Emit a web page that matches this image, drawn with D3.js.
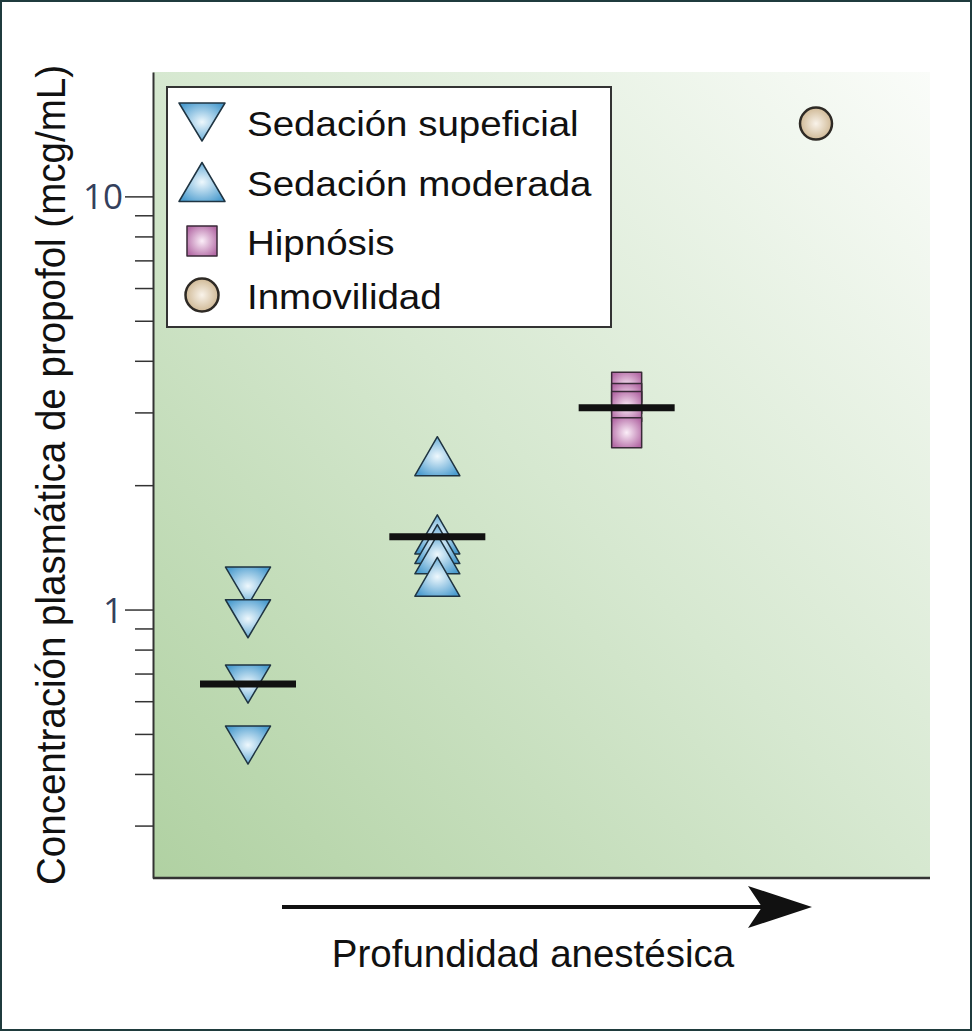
<!DOCTYPE html>
<html>
<head>
<meta charset="utf-8">
<script src="https://cdn.jsdelivr.net/npm/d3@7"></script>
<style>
  body { margin: 0; background: #fff; }
  svg { display: block; }
</style>
</head>
<body>
<div id="chart"></div>
<script>
// Chart data (propofol plasma concentration, mcg/mL)
var categories = ["Sedación supeficial", "Sedación moderada", "Hipnósis", "Inmovilidad"];
var superficialValues = [1.14, 0.95, 0.66, 0.47];
var moderateValues = [2.35, 1.52, 1.44, 1.36, 1.2];
var hypnosisValues = [3.45, 3.24, 3.1, 2.68];
var immobilityValues = [15];
var meanValues = [0.66, 1.5, 3.08, null];
var majorTicks = [1, 10];
var minorTicks = [0.3, 0.4, 0.5, 0.6, 0.7, 0.8, 0.9, 2, 3, 4, 5, 6, 7, 8, 9];
var yTitle = "Concentración plasmática de propofol (mcg/mL)";
var xTitle = "Profundidad anestésica";

var seriesValues = [superficialValues, moderateValues, hypnosisValues, immobilityValues];
var shapes = ["down", "up", "square", "circle"];
var fills = ["url(#blueGrad)", "url(#blueGrad)", "url(#pinkGrad)", "url(#tanGrad)"];

// svg size and margins
var svgWidth = 974;
var svgHeight = 1033;
var chartMargin = { top: 72, right: 44, bottom: 155, left: 153 };
var width = svgWidth - chartMargin.left - chartMargin.right;
var height = svgHeight - chartMargin.top - chartMargin.bottom;

var svg = d3.select("#chart")
  .append("svg")
    .attr("width", svgWidth)
    .attr("height", svgHeight);

// gradients
var defs = svg.append("defs");
var bg = defs.append("linearGradient")
  .attr("id", "bgGrad")
  .attr("x1", 0).attr("y1", 1).attr("x2", 1).attr("y2", 0);
bg.append("stop").attr("offset", "0%").attr("stop-color", "#b0d1a2");
bg.append("stop").attr("offset", "50%").attr("stop-color", "#d6e8d0");
bg.append("stop").attr("offset", "100%").attr("stop-color", "#fafcf9");

function radial(id, inner, outer) {
  var g = defs.append("radialGradient").attr("id", id).attr("r", "0.6");
  g.append("stop").attr("offset", "0%").attr("stop-color", inner);
  g.append("stop").attr("offset", "100%").attr("stop-color", outer);
}
radial("blueGrad", "#eef8fd", "#4d9dcf");
radial("pinkGrad", "#fbeef8", "#b46ba6");
radial("tanGrad", "#f9f3ea", "#c8ae86");

// outer frame
svg.append("rect")
  .attr("x", 1).attr("y", 1)
  .attr("width", svgWidth - 4).attr("height", svgHeight - 4)
  .attr("fill", "#fff")
  .attr("stroke", "#1f3b3d")
  .attr("stroke-width", 2);

var chartGroup = svg.append("g")
  .attr("transform", `translate(${chartMargin.left}, ${chartMargin.top})`);

// plot background
chartGroup.append("rect")
  .attr("width", width)
  .attr("height", height)
  .attr("fill", "url(#bgGrad)");

// scales
var xScale = d3.scalePoint()
  .domain(categories)
  .range([95, 663]);

var yScale = d3.scaleLog()
  .domain([0.224, 20])
  .range([height, 0]);

// y axis: minor ticks, then major ticks with labels
var minorAxis = d3.axisLeft(yScale)
  .tickValues(minorTicks)
  .tickSize(18)
  .tickSizeOuter(0)
  .tickFormat("");
var majorAxis = d3.axisLeft(yScale)
  .tickValues(majorTicks)
  .tickSize(28)
  .tickSizeOuter(0)
  .tickPadding(2)
  .tickFormat(d3.format("d"));

chartGroup.append("g").call(minorAxis)
  .call(g => g.selectAll(".tick line").attr("stroke", "#333").attr("stroke-width", 1.5))
  .call(g => g.select(".domain").remove());

chartGroup.append("g").call(majorAxis)
  .call(g => g.selectAll(".tick line").attr("stroke", "#333").attr("stroke-width", 1.5))
  .call(g => g.select(".domain").attr("stroke", "#333").attr("stroke-width", 2))
  .call(g => g.selectAll(".tick text")
    .attr("font-family", "'Open Sans', sans-serif")
    .attr("font-size", 35)
    .attr("dy", "0.36em")
    .attr("fill", "#34405c"));

// bottom axis line
chartGroup.append("line")
  .attr("x1", 0).attr("x2", width)
  .attr("y1", height).attr("y2", height)
  .attr("stroke", "#333")
  .attr("stroke-width", 2.5);

// marker shapes, centred on their bounding box
function shapePath(kind, w, h) {
  if (kind === "down") return `M${-w / 2},${-h / 2}L${w / 2},${-h / 2}L0,${h / 2}Z`;
  if (kind === "up") return `M0,${-h / 2}L${w / 2},${h / 2}L${-w / 2},${h / 2}Z`;
  if (kind === "square") return `M${-w / 2},${-h / 2}h${w}v${h}h${-w}Z`;
  return d3.symbol(d3.symbolCircle, Math.PI * (w / 2) * (w / 2))();
}
var shapeSize = { down: [45, 38], up: [45, 39], square: [30, 30], circle: [32, 32] };
var strokes = { down: "#1f3442", up: "#1f3442", square: "#3a2a38", circle: "#2e2a25" };

var points = [];
categories.forEach(function (cat, i) {
  seriesValues[i].forEach(function (v) {
    points.push({ cat: cat, value: v, shape: shapes[i], fill: fills[i] });
  });
});

chartGroup.selectAll("path.marker")
  .data(points)
  .enter()
  .append("path")
  .attr("class", "marker")
  .attr("transform", d => `translate(${xScale(d.cat)}, ${yScale(d.value)})`)
  .attr("d", d => shapePath(d.shape, shapeSize[d.shape][0], shapeSize[d.shape][1]))
  .attr("fill", d => d.fill)
  .attr("stroke", d => strokes[d.shape])
  .attr("stroke-width", d => d.shape === "circle" ? 2.5 : 1.5)
  .attr("stroke-linejoin", "round");

// black mean bars
var bars = categories.map((c, i) => ({ cat: c, value: meanValues[i] })).filter(d => d.value !== null);
chartGroup.selectAll("line.mean")
  .data(bars)
  .enter()
  .append("line")
  .attr("class", "mean")
  .attr("x1", d => xScale(d.cat) - 48)
  .attr("x2", d => xScale(d.cat) + 48)
  .attr("y1", d => yScale(d.value))
  .attr("y2", d => yScale(d.value))
  .attr("stroke", "#111")
  .attr("stroke-width", 7);

// legend
var legend = svg.append("g").attr("transform", "translate(167, 87)");
legend.append("rect")
  .attr("width", 444)
  .attr("height", 240)
  .attr("fill", "#fff")
  .attr("stroke", "#333")
  .attr("stroke-width", 2);

var legendRows = [35, 95, 154, 208];
var legendSize = { down: [46, 38], up: [46, 39], square: [30, 30], circle: [33, 33] };
var items = legend.selectAll("g.item")
  .data(categories)
  .enter()
  .append("g")
  .attr("class", "item")
  .attr("transform", (d, i) => `translate(35, ${legendRows[i]})`);

items.append("path")
  .attr("d", (d, i) => shapePath(shapes[i], legendSize[shapes[i]][0], legendSize[shapes[i]][1]))
  .attr("fill", (d, i) => fills[i])
  .attr("stroke", (d, i) => strokes[shapes[i]])
  .attr("stroke-width", (d, i) => shapes[i] === "circle" ? 2.5 : 1.5)
  .attr("stroke-linejoin", "round");

items.append("text")
  .attr("transform", "translate(45, 14) scale(1.1, 1)")
  .attr("font-family", "'Liberation Sans', Arial, sans-serif")
  .attr("font-size", 35)
  .attr("fill", "#111")
  .text(d => d);

// y axis title
svg.append("text")
  .attr("transform", "translate(65, 475) rotate(-90)")
  .attr("text-anchor", "middle")
  .attr("font-family", "'Liberation Sans', Arial, sans-serif")
  .attr("font-size", 41)
  .attr("textLength", 820)
  .attr("lengthAdjust", "spacingAndGlyphs")
  .attr("fill", "#111")
  .text(yTitle);

// depth arrow and x title
svg.append("line")
  .attr("x1", 282).attr("x2", 770)
  .attr("y1", 907).attr("y2", 907)
  .attr("stroke", "#111")
  .attr("stroke-width", 4);
svg.append("path")
  .attr("d", "M812,907L748,886L762,907L748,928Z")
  .attr("fill", "#111");

svg.append("text")
  .attr("x", 533)
  .attr("y", 967)
  .attr("text-anchor", "middle")
  .attr("font-family", "'Liberation Sans', Arial, sans-serif")
  .attr("font-size", 38.5)
  .attr("fill", "#111")
  .text(xTitle);
</script>
</body>
</html>
